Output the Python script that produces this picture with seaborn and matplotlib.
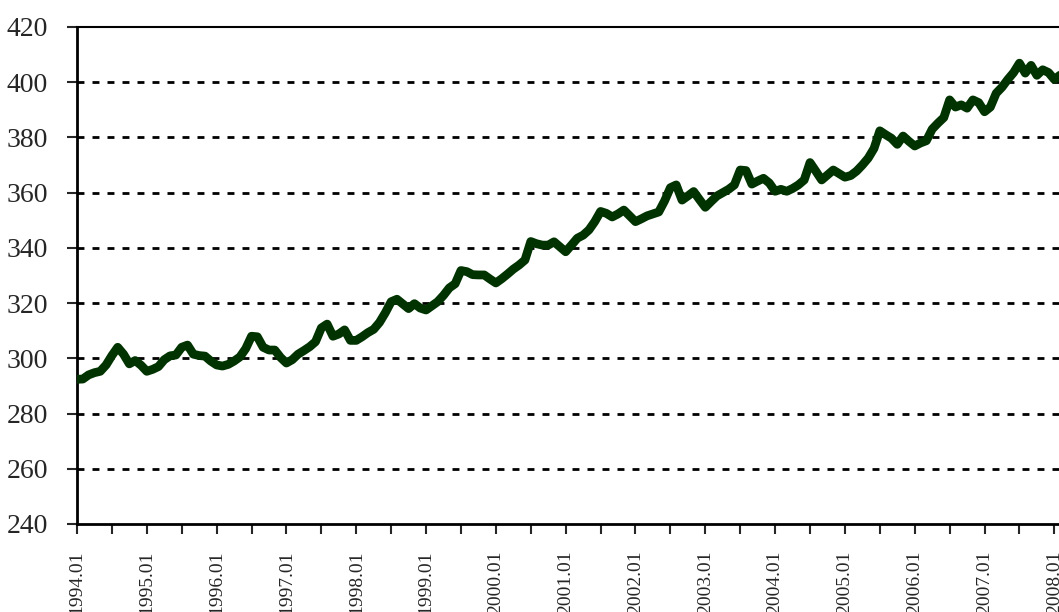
import matplotlib
matplotlib.use("Agg")
import matplotlib.pyplot as plt
import seaborn as sns
import pandas as pd

# monthly values, 1994.01 .. 2008.02
y1994 = [292.4, 292.5, 294.0, 294.8, 295.3, 297.6, 301.0, 304.0, 301.5, 298.0, 299.2, 297.5]
y1995 = [295.3, 296.0, 297.0, 299.5, 300.9, 301.2, 304.0, 304.8, 301.5, 301.0, 300.8, 299.0]
y1996 = [297.6, 297.2, 297.8, 299.0, 300.5, 303.5, 308.0, 307.8, 304.0, 303.0, 303.0, 300.3]
y1997 = [298.3, 299.5, 301.5, 302.8, 304.2, 306.0, 311.0, 312.4, 308.0, 308.8, 310.3, 306.5]
y1998 = [306.5, 307.8, 309.3, 310.5, 313.0, 316.5, 320.5, 321.4, 319.7, 318.0, 319.8, 318.2]
y1999 = [317.5, 319.0, 320.5, 322.8, 325.5, 327.0, 331.8, 331.4, 330.3, 330.2, 330.2, 328.7]
y2000 = [327.3, 328.8, 330.5, 332.3, 333.8, 335.6, 342.3, 341.5, 341.0, 341.0, 342.2, 340.4]
y2001 = [338.6, 341.0, 343.5, 344.6, 346.5, 349.5, 353.2, 352.5, 351.2, 352.3, 353.7, 351.6]
y2002 = [349.5, 350.5, 351.6, 352.3, 353.0, 357.0, 361.8, 362.8, 357.3, 358.8, 360.4, 357.5]
y2003 = [354.7, 356.8, 358.8, 360.0, 361.2, 362.8, 368.2, 368.0, 363.1, 364.2, 365.2, 363.5]
y2004 = [360.5, 361.2, 360.5, 361.5, 362.8, 364.6, 370.9, 367.8, 364.6, 366.4, 368.2, 366.9]
y2005 = [365.6, 366.2, 367.8, 370.0, 372.5, 376.0, 382.4, 381.0, 379.7, 377.5, 380.5, 378.6]
y2006 = [376.9, 378.0, 378.8, 383.0, 385.2, 387.2, 393.6, 391.0, 391.8, 390.6, 393.6, 392.6]
y2007 = [389.3, 391.0, 396.0, 398.2, 401.0, 403.5, 406.9, 403.3, 406.1, 402.5, 404.5, 403.5]
y2008 = [401.0, 402.6]

values = (y1994 + y1995 + y1996 + y1997 + y1998 + y1999 + y2000 + y2001 + y2002
          + y2003 + y2004 + y2005 + y2006 + y2007 + y2008)
years = list(range(1994, 2009))
tick_labels = [f"{y}.01" for y in years]

df = pd.DataFrame({"month": range(len(values)), "value": values})

sns.set_style("white")
plt.rcParams["font.family"] = ["Liberation Serif", "DejaVu Serif"]

fig = plt.figure(figsize=(10.59, 6.12), dpi=100)
ax = fig.add_axes([0.0727, 0.1438, 1.0 - 0.0727, 0.9559 - 0.1438])

for v in range(260, 420, 20):
    ax.axhline(v, color="black", lw=2, dashes=(2.5, 2.9), zorder=1)

sns.lineplot(data=df, x="month", y="value", color="#003300", lw=6.3, ax=ax, zorder=3)

ax.set_xlim(0, 168.8)
ax.set_ylim(240, 420)
ax.set_yticks(range(240, 421, 20))
ax.tick_params(axis="y", labelsize=20, length=7, width=1.5, direction="out", pad=14, left=True)

xt = list(range(0, 169, 6))
ax.set_xticks(xt)
ax.set_xticklabels([tick_labels[i // 12] if i % 12 == 0 else "" for i in xt],
                   rotation=90, fontsize=14)
ax.tick_params(axis="x", length=7, width=1.5, direction="out", pad=12, bottom=True)

ax.set_xlabel("")
ax.set_ylabel("")
for s in ["left", "bottom"]:
    ax.spines[s].set_color("black")
    ax.spines[s].set_linewidth(2)
ax.spines["top"].set_color("black")
ax.spines["top"].set_linewidth(1.5)
ax.spines["right"].set_visible(False)

fig.savefig("out.png", dpi=100)
